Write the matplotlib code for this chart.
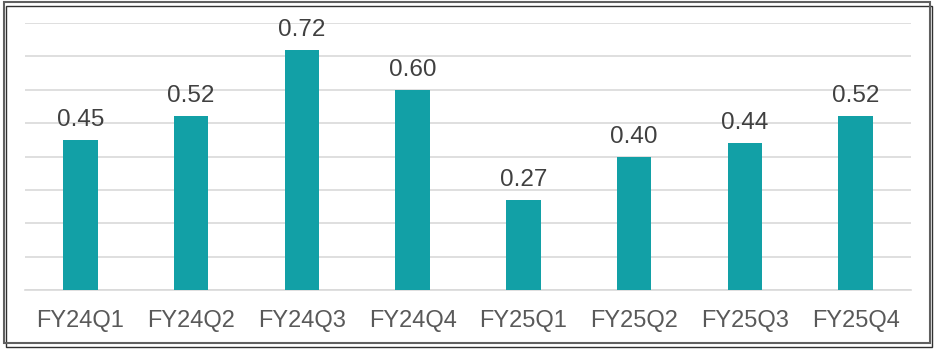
import matplotlib.pyplot as plt
from matplotlib.patches import Rectangle

plt.rcParams['font.family'] = ['Liberation Sans', 'DejaVu Sans']

quarters = ["FY24Q1", "FY24Q2", "FY24Q3", "FY24Q4",
            "FY25Q1", "FY25Q2", "FY25Q3", "FY25Q4"]
values = [0.45, 0.52, 0.72, 0.60, 0.27, 0.40, 0.44, 0.52]

bar_color = "#12A0A6"

fig = plt.figure(figsize=(9.36, 3.49), dpi=100)
ax = fig.add_axes([0.0267, 0.169, 0.9466, 0.765])

x = range(len(quarters))
ax.bar(x, values, width=0.31, color=bar_color, zorder=3)

# value labels above each bar
for i, v in enumerate(values):
    ax.text(i, v + 0.042, f"{v:.2f}", ha="center", va="baseline",
            fontsize=17.5, color="#404040", zorder=4)

ax.set_xlim(-0.5, len(quarters) - 0.5)
ax.set_ylim(0, 0.8)
ax.set_yticks([i / 10 for i in range(9)])
ax.yaxis.grid(True, color="#d9d9d9", lw=1.2, zorder=0)
ax.tick_params(axis="y", left=False, labelleft=False)
ax.tick_params(axis="x", bottom=False, labelsize=17, labelcolor="#595959", pad=11)
ax.set_xticks(list(x))
ax.set_xticklabels(quarters)
for s in ["top", "right", "left"]:
    ax.spines[s].set_visible(False)
ax.spines["bottom"].set_color("#d9d9d9")
ax.spines["bottom"].set_linewidth(1.2)

# outer frame with a little shadow
fig.patches.append(Rectangle((0.004, 0.016), 0.99, 0.977, transform=fig.transFigure,
                             fill=False, ec="#606060", lw=1.5))
fig.patches.append(Rectangle((0.006, 0.006), 0.99, 0.977, transform=fig.transFigure,
                             fill=False, ec="#303030", lw=1.0, zorder=-1))

fig.savefig("out.png", dpi=100)
